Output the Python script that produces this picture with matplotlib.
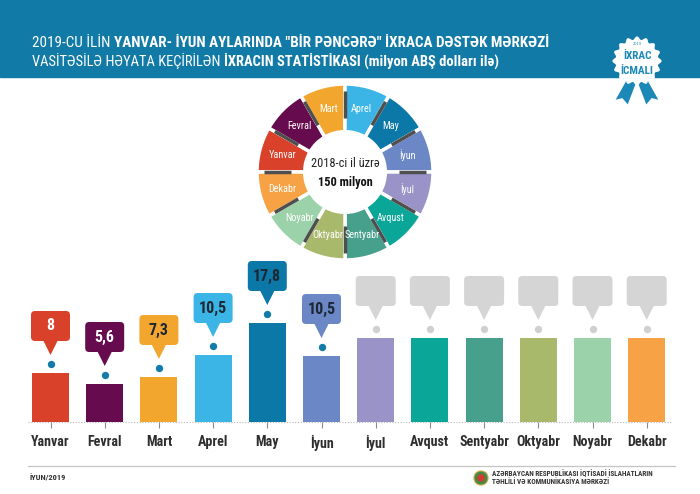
import numpy as np
import matplotlib
matplotlib.use("Agg")
import matplotlib.pyplot as plt
from matplotlib import font_manager as fm
from matplotlib.patches import FancyBboxPatch, Polygon, Rectangle, Circle

# ---------------- data ----------------
months = ['Yanvar', 'Fevral', 'Mart', 'Aprel', 'May', 'İyun',
          'İyul', 'Avqust', 'Sentyabr', 'Oktyabr', 'Noyabr', 'Dekabr']
values = [8, 5.6, 7.3, 10.5, 17.8, 10.5]          # reported months (mln USD)
bar_heights = [49, 38, 45, 67, 99, 66, 84, 84, 84, 84, 84, 84]  # drawn heights
colors = ['#d9412b', '#660c4e', '#f3a62e', '#3ab5e5', '#0b78a7', '#6b87c5',
          '#9a93c8', '#0aa698', '#47a08b', '#a9b96b', '#9cd2a9', '#f6a245']
value_text_colors = ['white', 'white', '#1c2733', '#1c2733', '#1c2733', '#1c2733']
donut_center_lines = ['2018-ci il üzrə', '150 milyon']

names = {f.name for f in fm.fontManager.ttflist}
NARROW = 'DejaVu Sans'
for cand in ['Roboto Condensed', 'Liberation Sans Narrow', 'Open Sans Condensed',
             'Noto Sans Condensed', 'Roboto']:
    if cand in names:
        NARROW = cand
        break
FONT = [NARROW, 'DejaVu Sans']

W, H = 700, 494
fig = plt.figure(figsize=(W / 100, H / 100), dpi=100)
fig.patch.set_facecolor('white')

bg = fig.add_axes([0, 0, 1, 1])
bg.set_xlim(0, W)
bg.set_ylim(H, 0)
bg.axis('off')

HEADER = '#127aa6'
bg.add_patch(Rectangle((0, 0), W, 77, color=HEADER, zorder=0))

renderer = fig.canvas.get_renderer()


def width_of(txt, size, weight):
    t = bg.text(0, 0, txt, fontsize=size, fontweight=weight, family=FONT)
    w = t.get_window_extent(renderer).width
    t.remove()
    return w


def fit_size(txt, target, weight='normal', base=10):
    return base * target / width_of(txt, base, weight)


def seq_text(x, y, pieces, target):
    total = sum(width_of(t, 10, wt) for t, wt in pieces)
    size = 10 * target / total
    for txt, weight in pieces:
        t = bg.text(x, y, txt, fontsize=size, fontweight=weight, color='white',
                    family=FONT, ha='left', va='center')
        x += t.get_window_extent(renderer).width


seq_text(32, 43, [('2019-CU İLİN ', 'normal'),
                  ('YANVAR- İYUN AYLARINDA "BİR PƏNCƏRƏ" İXRACA DƏSTƏK MƏRKƏZİ', 'bold')], 516)
seq_text(32, 61, [('VASİTƏSİLƏ HƏYATA KEÇİRİLƏN ', 'normal'),
                  ('İXRACIN STATİSTİKASI (milyon ABŞ dolları ilə)', 'bold')], 466)

# badge
bcx, bcy, R = 637, 61, 23
ribbon = '#1b88b8'
bg.add_patch(Polygon([(628, 76), (638, 80), (628, 106), (622, 99), (614, 101)],
                     closed=True, facecolor=ribbon, edgecolor='white', lw=1.2, zorder=2))
bg.add_patch(Polygon([(646, 76), (636, 80), (646, 106), (652, 99), (660, 101)],
                     closed=True, facecolor=ribbon, edgecolor='white', lw=1.2, zorder=2))
th = np.linspace(0, 2 * np.pi, 400)
rr = R + 1.6 * np.cos(16 * th)
bg.add_patch(Polygon(np.c_[bcx + rr * np.cos(th), bcy + rr * np.sin(th)],
                     closed=True, facecolor='white', edgecolor='none', zorder=3))
bsz = fit_size('İCMALI', 33, 'bold')
bg.text(bcx, bcy - 5, 'İXRAC', fontsize=bsz, fontweight='bold', color=ribbon,
        family=FONT, ha='center', va='center', zorder=4)
bg.text(bcx, bcy + 10, 'İCMALI', fontsize=bsz, fontweight='bold', color=ribbon,
        family=FONT, ha='center', va='center', zorder=4)
bg.text(bcx, bcy - 17, '2019', fontsize=2.5, color=ribbon, ha='center', va='center', zorder=4)

# footer
bg.plot([28, 675], [466, 466], color='#c4c4c4', lw=0.9)
bg.text(30, 478, 'İYUN/2019', fontsize=6, fontweight='bold', color='#333333',
        family=FONT, ha='left', va='center')
bg.add_patch(Circle((481, 478), 7, facecolor='#3d8a4a', edgecolor='#caa53c', lw=0.8))
bg.add_patch(Circle((481, 478), 3.8, facecolor='#d33b2c', edgecolor='none'))
fsz = fit_size('AZƏRBAYCAN RESPUBLİKASI İQTİSADİ İSLAHATLARIN', 160, 'bold')
bg.text(492, 474, 'AZƏRBAYCAN RESPUBLİKASI İQTİSADİ İSLAHATLARIN', fontsize=fsz,
        fontweight='bold', color='#333333', family=FONT, ha='left', va='center')
bg.text(492, 482, 'TƏHLİLİ VƏ KOMMUNİKASİYA MƏRKƏZİ', fontsize=fsz,
        fontweight='bold', color='#333333', family=FONT, ha='left', va='center')

# ---------------- donut ----------------
dcx, dcy, half = 345, 172, 90
dax = fig.add_axes([(dcx - half) / W, (H - dcy - half) / H, 2 * half / W, 2 * half / H])
rad = 88 / 90
wedges, _ = dax.pie([1] * 12, colors=colors, startangle=180, counterclock=False,
                    radius=rad, wedgeprops=dict(width=0.53, edgecolor='white', linewidth=2.5))
dax.set_xlim(-1, 1)
dax.set_ylim(-1, 1)
dax.set_aspect('equal')
dsz = fit_size('Sentyabr', 35)
for k, name in enumerate(months):
    ang = np.deg2rad(180 - 30 * k - 15)
    rl = 0.72
    dax.text(rl * np.cos(ang), rl * np.sin(ang), name, fontsize=dsz, color='white',
             family=FONT, ha='center', va='center')
for k in range(12):
    ang = np.deg2rad(180 - 30 * k)
    dax.plot([0.6 * np.cos(ang), 0.9 * np.cos(ang)], [0.6 * np.sin(ang), 0.9 * np.sin(ang)],
             color='#4f4f4f', lw=2.5, solid_capstyle='butt')
csz = fit_size(donut_center_lines[0], 68)
dax.text(0, 0.09, donut_center_lines[0], fontsize=csz, color='#222222', family=FONT,
         ha='center', va='center')
dax.text(0, -0.12, donut_center_lines[1], fontsize=csz, fontweight='bold', color='#111111',
         family=FONT, ha='center', va='center')

# ---------------- bars ----------------
x0, step, base, top_px = 50.5, 54.2, 422, 250
ax = fig.add_axes([0, (H - base) / H, 1, (base - top_px) / H])
ax.set_xlim(-x0 / step, (W - x0) / step)
ax.set_ylim(0, base - top_px)
ax.patch.set_alpha(0)
for s in ax.spines.values():
    s.set_visible(False)
xs = np.arange(len(months))
ax.bar(xs, bar_heights, width=37 / step, color=colors, zorder=2)
ax.plot([(28 - x0) / step, (672 - x0) / step], [0, 0], color='#b9b9b9', lw=0.8,
        ls=(0, (1, 1.5)), zorder=1, clip_on=False)
ax.set_yticks([])
ax.set_xticks(xs)
msz = fit_size('Sentyabr', 50, 'bold')
ax.set_xticklabels(months, fontsize=msz, fontweight='bold', color='#2e2e2e', family=FONT)
ax.tick_params(axis='x', length=4, width=0.8, color='#8c8c8c', pad=5)

asp = step
for i, h in enumerate(bar_heights):
    filled = i < len(values)
    c = colors[i] if filled else '#d5d5d5'
    bw = (39 if filled else 40) / step
    dot_c = '#137ba8' if filled else '#d0d0d0'
    ax.scatter([i], [h + 9], s=28, color=dot_c, zorder=3, clip_on=False, linewidths=0)
    hw = 7.5 / step
    ax.add_patch(Polygon([(i - hw, h + 33), (i + hw, h + 33), (i, h + 18)],
                         closed=True, color=c, zorder=3, clip_on=False, lw=0))
    ax.add_patch(FancyBboxPatch((i - bw / 2, h + 32), bw, 30,
                                boxstyle='round,pad=0,rounding_size=%f' % (4 / step),
                                mutation_aspect=asp, color=c, zorder=3, clip_on=False, lw=0))
    if filled:
        lab = ('%g' % values[i]).replace('.', ',')
        ax.text(i, h + 47, lab, fontsize=11.5, fontweight='bold',
                color=value_text_colors[i], family=FONT, ha='center', va='center', zorder=4)

fig.savefig('out.png', dpi=100)
